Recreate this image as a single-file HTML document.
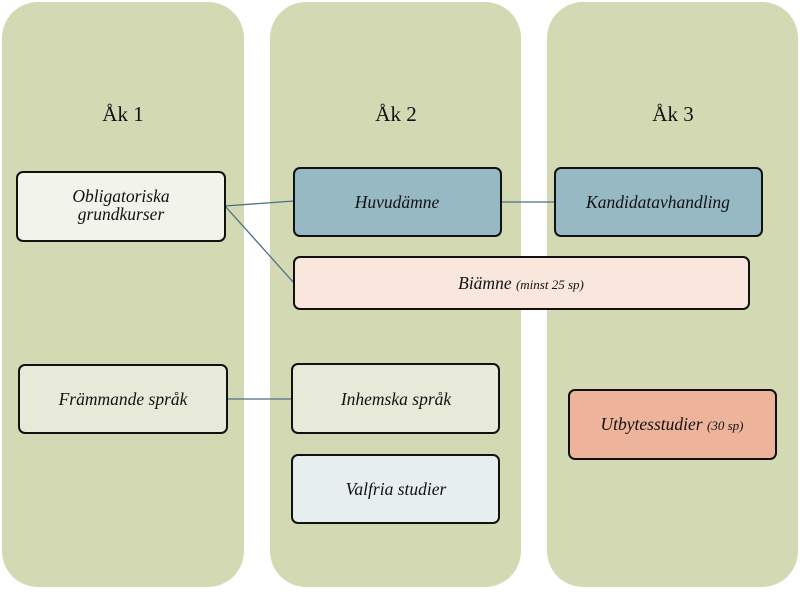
<!DOCTYPE html>
<html><head><meta charset="utf-8"><style>html,body{margin:0;padding:0;background:#fff;}svg{display:block}</style></head>
<body>
<svg width="800" height="597" viewBox="0 0 800 597" xmlns="http://www.w3.org/2000/svg" font-family="'Liberation Serif', serif">
<rect x="2" y="2" width="242" height="585" rx="36" fill="#d3d9b3"/>
<rect x="270" y="2" width="251" height="585" rx="36" fill="#d3d9b3"/>
<rect x="547" y="2" width="251" height="585" rx="36" fill="#d3d9b3"/>
<g font-size="21" fill="#111" text-anchor="middle">
<text x="123" y="121">Åk 1</text>
<text x="396" y="121">Åk 2</text>
<text x="673" y="121">Åk 3</text>
</g>
<g stroke="#4a7186" stroke-width="1.3">
<line x1="225" y1="206" x2="294" y2="201"/>
<line x1="225" y1="206" x2="294" y2="283"/>
<line x1="501" y1="202" x2="555" y2="202"/>
<line x1="227" y1="399" x2="292" y2="399"/>
</g>
<g stroke="#111" stroke-width="2">
<rect x="17" y="172" width="208" height="69" rx="6" fill="#f2f3ea"/>
<rect x="294" y="168" width="207" height="68" rx="6" fill="#97b9c3"/>
<rect x="555" y="168" width="207" height="68" rx="6" fill="#97b9c3"/>
<rect x="294" y="257" width="455" height="52" rx="6" fill="#f9e6dd"/>
<rect x="19" y="365" width="208" height="68" rx="6" fill="#e8ead9"/>
<rect x="292" y="364" width="207" height="69" rx="6" fill="#e8ead9"/>
<rect x="292" y="455" width="207" height="68" rx="6" fill="#e6eeee"/>
<rect x="569" y="390" width="207" height="69" rx="6" fill="#eeb49b"/>
</g>
<g font-size="17.5" font-style="italic" fill="#111" text-anchor="middle">
<text x="121" y="202">Obligatoriska</text>
<text x="121" y="220">grundkurser</text>
<text x="397" y="208">Huvudämne</text>
<text x="658" y="208">Kandidatavhandling</text>
<text x="521" y="289">Biämne <tspan font-size="13">(minst 25 sp)</tspan></text>
<text x="123" y="405">Främmande språk</text>
<text x="396" y="405">Inhemska språk</text>
<text x="396" y="495">Valfria studier</text>
<text x="672" y="430">Utbytesstudier <tspan font-size="13">(30 sp)</tspan></text>
</g>
</svg>
</body></html>
